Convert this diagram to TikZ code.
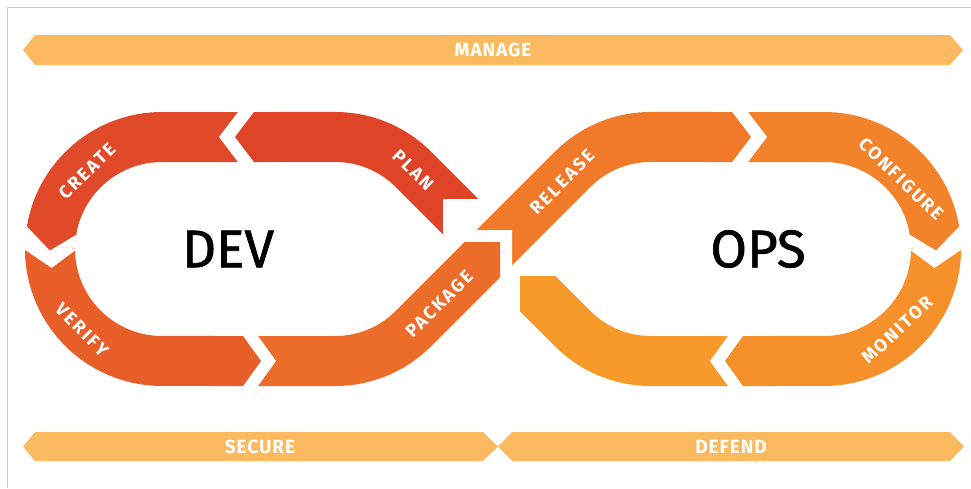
\documentclass[tikz,border=0pt]{standalone}
\usepackage{fontspec}
\newfontfamily\lblfont{Fira Sans}[LetterSpace=12]
\newfontfamily\barfont{Fira Sans}[LetterSpace=5]
\newfontfamily\bigfont{Fira Sans}[FakeBold=1.2]
\definecolor{cPlan}{HTML}{E04427}
\definecolor{cCreate}{HTML}{E14A28}
\definecolor{cVerify}{HTML}{E75E29}
\definecolor{cPackage}{HTML}{EC6C2A}
\definecolor{cRelease}{HTML}{F0792A}
\definecolor{cConfig}{HTML}{F2832A}
\definecolor{cMonitor}{HTML}{F5902A}
\definecolor{cBlank}{HTML}{F89A2A}
\definecolor{cBar}{HTML}{FBBA5F}
\definecolor{cFrame}{HTML}{C8C8C8}
\begin{document}
\begin{tikzpicture}[x=1pt,y=-1pt,
  band/.style={line width=50pt},
  lbl/.style={text=white,font=\lblfont\bfseries\fontsize{18}{18}\selectfont,inner sep=0pt},
  barlbl/.style={text=white,font=\barfont\bfseries\fontsize{19}{19}\selectfont,inner sep=0pt},
  big/.style={text=black,font=\bigfont\fontsize{53}{53}\selectfont,inner sep=0pt}]
\useasboundingbox (0,0) rectangle (971,488);
\fill[white] (0,0) rectangle (971,488);
\draw[cFrame,line width=1pt] (7.5,488) -- (7.5,7.5) -- (971,7.5);
% bars
\fill[cBar] (23,50) -- (35,35) -- (950,35) -- (963,50) -- (950,65) -- (35,65) -- cycle;
\node[barlbl] (manage) at (493,50) {MANAGE};
\fill[cBar] (23,446.5) -- (35,432) -- (483,432) -- (498,446.5) -- (483,461) -- (35,461) -- cycle;
\node[barlbl] (secure) at (260,447) {SECURE};
\fill[cBar] (498,446.5) -- (512,432) -- (950,432) -- (964,446.5) -- (950,461) -- (512,461) -- cycle;
\node[barlbl] (defend) at (731,447) {DEFEND};
% band strokes
\draw[band,cPlan] (460.7,216.7) -- (413.2,169.2) arc[start angle=-45,end angle=-90,radius=110] -- (254,137);
\draw[band,cCreate] (238,137) -- (162,137) arc[start angle=-90,end angle=-170.5,radius=112];
\draw[band,cVerify] (50.0,248.0) arc[start angle=180.5,end angle=90,radius=112] -- (243,361);
\draw[band,cPackage] (258,361) -- (335.4,361) arc[start angle=90,end angle=45,radius=110] -- (482.3,259.7);
\draw[band,cRelease] (494.3,247.7) -- (572.8,169.2) arc[start angle=225,end angle=270,radius=110] -- (732,137);
\draw[band,cConfig] (748,137) -- (824,137) arc[start angle=270,end angle=350.5,radius=112];
\draw[band,cMonitor] (936.0,248.0) arc[start angle=-0.5,end angle=90,radius=112] -- (743,361);
\draw[band,cBlank] (728,361) -- (650.6,361) arc[start angle=90,end angle=135,radius=110] -- (537.7,293.7);
% tail notches
\fill[white] (240.3,109) -- (219,137) -- (240.3,165) -- cycle;
\fill[white] (22.0,247.8) -- (51.6,267.9) -- (78.0,248.3) -- cycle;
\fill[white] (255.8,333) -- (276,361) -- (255.8,389) -- cycle;
\fill[white] (472,230) -- (512,230) -- (512,270) -- cycle;
\fill[white] (745.7,109) -- (767,137) -- (745.7,165) -- cycle;
\fill[white] (964,247.8) -- (934.4,267.9) -- (908,248.3) -- cycle;
\fill[white] (730.2,333) -- (710,361) -- (730.2,389) -- cycle;
\fill[white] (482,199) -- (443,199) -- (443,238) -- cycle;
% heads (bases overlap the strokes slightly)
\fill[cPlan] (255.2,112) -- (254,112) -- (235,137) -- (254,162) -- (255.2,162) -- cycle;
\fill[cCreate] (27.3,224.0) -- (26.9,226.4) -- (50.0,250.4) -- (76.2,234.6) -- (76.5,233.2) -- cycle;
\fill[cVerify] (241.8,336) -- (243,336) -- (261,361) -- (243,386) -- (241.8,386) -- cycle;
\fill[cPackage] (463.9,242.7) -- (464.6,242) -- (500,242) -- (500,277.4) -- (499.3,278.1) -- cycle;
\fill[cRelease] (730.8,112) -- (732,112) -- (751,137) -- (732,162) -- (730.8,162) -- cycle;
\fill[cConfig] (958.7,224.0) -- (959.1,226.4) -- (936.0,250.4) -- (909.8,234.6) -- (909.5,233.2) -- cycle;
\fill[cMonitor] (744.2,336) -- (743,336) -- (725,361) -- (743,386) -- (744.2,386) -- cycle;
\fill[cBlank] (556.1,276.7) -- (555.4,276) -- (520,276) -- (520,311.4) -- (520.7,312.1) -- cycle;
% labels
\node[lbl,rotate=44] (create) at (87,171) {CREATE};
\node[lbl,rotate=-44] (plan) at (413,170) {PLAN};
\node[lbl,rotate=-45] (verify) at (82,330) {VERIFY};
\node[lbl,rotate=45] (package) at (439,304) {PACKAGE};
\node[lbl,rotate=45] (release) at (562,182) {RELEASE};
\node[lbl,rotate=-44] (configure) at (901,179) {CONFIGURE};
\node[lbl,rotate=43] (monitor) at (897,330) {MONITOR};
\node[big] (dev) at (228,249) {DEV};
\node[big] (ops) at (758,249) {OPS};
\end{tikzpicture}
\end{document}
